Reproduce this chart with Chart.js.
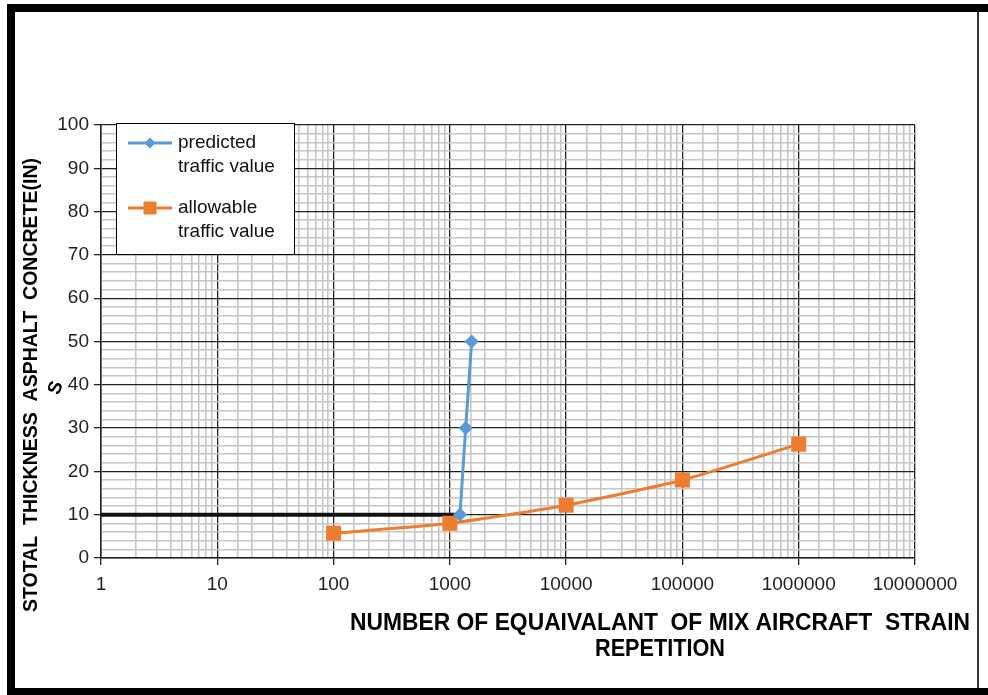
<!DOCTYPE html>
<html>
<head>
<meta charset="utf-8">
<script src="https://cdn.jsdelivr.net/npm/chart.js@4.4.1/dist/chart.umd.min.js"></script>
<style>
  html, body { margin: 0; padding: 0; background: #fff; }
  #wrap { position: relative; width: 988px; height: 695px; }
</style>
</head>
<body>
<div id="wrap"><canvas id="chart" width="988" height="695"></canvas></div>
<script>
// data
const predictedX = [1222, 1368, 1540];
const predictedY = [10, 30, 50];
const allowableX = [100, 1000, 10000, 100000, 1000000];
const allowableY = [5.7, 8, 12.2, 18, 26.3];
const guideX = [1, 1222];
const guideY = [10, 10];

const xTickLabels = [1, 10, 100, 1000, 10000, 100000, 1000000, 10000000];
const yTickLabels = [0, 10, 20, 30, 40, 50, 60, 70, 80, 90, 100];

const seriesNames = ['predicted traffic value', 'allowable traffic value'];
const legendLines = [['predicted', 'traffic value'], ['allowable', 'traffic value']];
const yTitle = 'STOTAL  THICKNESS  ASPHALT  CONCRETE(IN)';
const xTitle = ['NUMBER OF EQUAIVALANT  OF MIX AIRCRAFT  STRAIN', 'REPETITION'];

const BLUE = '#5b9bd5';
const ORANGE = '#ed7d31';
const MAJOR = '#222222';
const MINOR = '#c6c6c6';
const FONT = '"Liberation Sans", Arial, sans-serif';

const toPoints = (xs, ys) => xs.map((x, i) => ({ x: x, y: ys[i] }));
const isDecade = v => Math.abs(Math.log10(v) - Math.round(Math.log10(v))) < 1e-9;

const decor = {
  id: 'decor',
  beforeDraw(chart) {
    const ctx = chart.ctx;
    ctx.save();
    ctx.fillStyle = '#fff';
    ctx.fillRect(0, 0, chart.width, chart.height);
    ctx.restore();
  },
  afterDraw(chart) {
    const ctx = chart.ctx;
    ctx.save();

    // outer frame
    ctx.fillStyle = '#000';
    ctx.fillRect(7, 4, 981, 8);
    ctx.fillRect(7, 4, 8, 691);
    ctx.fillRect(7, 688, 981, 7);
    ctx.fillStyle = '#333';
    ctx.fillRect(977, 12, 2, 676);

    // y axis title
    ctx.fillStyle = '#000';
    ctx.font = 'bold 21px ' + FONT;
    ctx.textAlign = 'center';
    ctx.textBaseline = 'middle';
    ctx.save();
    ctx.translate(31, 385);
    ctx.rotate(-Math.PI / 2);
    ctx.fillText(yTitle, 0, 0, 454);
    ctx.restore();

    // stray S next to the 40 label
    ctx.save();
    ctx.translate(56, 388);
    ctx.rotate(-Math.PI / 2 + 0.35);
    ctx.font = 'bold 19px ' + FONT;
    ctx.fillText('S', 0, 0);
    ctx.restore();

    // x axis title
    ctx.font = 'bold 24px ' + FONT;
    ctx.fillText(xTitle[0], 660, 623, 620);
    ctx.fillText(xTitle[1], 660, 649, 130);

    // legend
    const lx = 116, ly = 123, lw = 178, lh = 131;
    ctx.fillStyle = '#fff';
    ctx.fillRect(lx, ly, lw, lh);
    ctx.strokeStyle = '#000';
    ctx.lineWidth = 1;
    ctx.strokeRect(lx + 0.5, ly + 0.5, lw, lh);

    ctx.textAlign = 'left';
    ctx.font = '19px ' + FONT;
    [0, 1].forEach(i => {
      const ds = chart.data.datasets[i];
      const y = 143 + i * 65;
      ctx.strokeStyle = ds.borderColor;
      ctx.lineWidth = 3;
      ctx.beginPath();
      ctx.moveTo(128, y);
      ctx.lineTo(172, y);
      ctx.stroke();
      ctx.fillStyle = ds.pointBackgroundColor;
      ctx.strokeStyle = ds.pointBorderColor;
      ctx.lineWidth = 1;
      Chart.helpers.drawPoint(ctx, { pointStyle: ds.pointStyle, rotation: 0, radius: ds.pointRadius, borderWidth: 1 }, 150, y);
      ctx.fillStyle = '#111';
      legendLines[i].forEach((t, j) => ctx.fillText(t, 178, y + j * 24));
    });

    ctx.restore();
  }
};

new Chart(document.getElementById('chart').getContext('2d'), {
  type: 'line',
  data: {
    datasets: [
      {
        label: seriesNames[0],
        data: toPoints(predictedX, predictedY),
        borderColor: BLUE,
        backgroundColor: BLUE,
        pointBackgroundColor: BLUE,
        pointBorderColor: BLUE,
        pointStyle: 'rectRot',
        pointRadius: 5,
        borderWidth: 3,
        tension: 0
      },
      {
        label: seriesNames[1],
        data: toPoints(allowableX, allowableY),
        borderColor: ORANGE,
        backgroundColor: ORANGE,
        pointBackgroundColor: ORANGE,
        pointBorderColor: ORANGE,
        pointStyle: 'rect',
        pointRadius: 8.5,
        borderWidth: 3,
        tension: 0.2
      },
      {
        label: 'guide',
        data: toPoints(guideX, guideY),
        borderColor: '#111',
        borderWidth: 4,
        pointRadius: 0,
        tension: 0
      }
    ]
  },
  options: {
    responsive: false,
    animation: false,
    devicePixelRatio: 1,
    layout: { padding: { left: 0, top: 125, right: 73, bottom: 0 } },
    plugins: {
      legend: { display: false },
      tooltip: { enabled: false }
    },
    scales: {
      x: {
        type: 'logarithmic',
        min: 1,
        max: 10000000,
        afterFit: scale => { scale.height = 137; },
        border: { color: MAJOR, width: 1.5 },
        grid: {
          color: c => isDecade(c.tick.value) ? MAJOR : MINOR,
          lineWidth: c => isDecade(c.tick.value) ? 1.3 : 1.6,
          tickColor: c => isDecade(c.tick.value) ? MAJOR : 'rgba(0,0,0,0)',
          tickLength: 7
        },
        ticks: {
          autoSkip: false,
          maxRotation: 0,
          padding: 8,
          color: '#222',
          font: { family: FONT, size: 19 },
          callback: v => xTickLabels.includes(v) ? String(v) : ''
        }
      },
      y: {
        type: 'linear',
        min: 0,
        max: 100,
        afterFit: scale => { scale.width = 101; },
        border: { color: MAJOR, width: 1.5 },
        grid: {
          color: c => c.tick.value % 10 === 0 ? MAJOR : MINOR,
          lineWidth: c => c.tick.value % 10 === 0 ? 1.3 : 1.6,
          tickColor: c => c.tick.value % 10 === 0 ? MAJOR : 'rgba(0,0,0,0)',
          tickLength: 7
        },
        ticks: {
          stepSize: 2,
          autoSkip: false,
          padding: 5,
          color: '#222',
          font: { family: FONT, size: 19 },
          callback: v => yTickLabels.includes(v) ? String(v) : ''
        }
      }
    }
  },
  plugins: [decor]
});
</script>
</body>
</html>
